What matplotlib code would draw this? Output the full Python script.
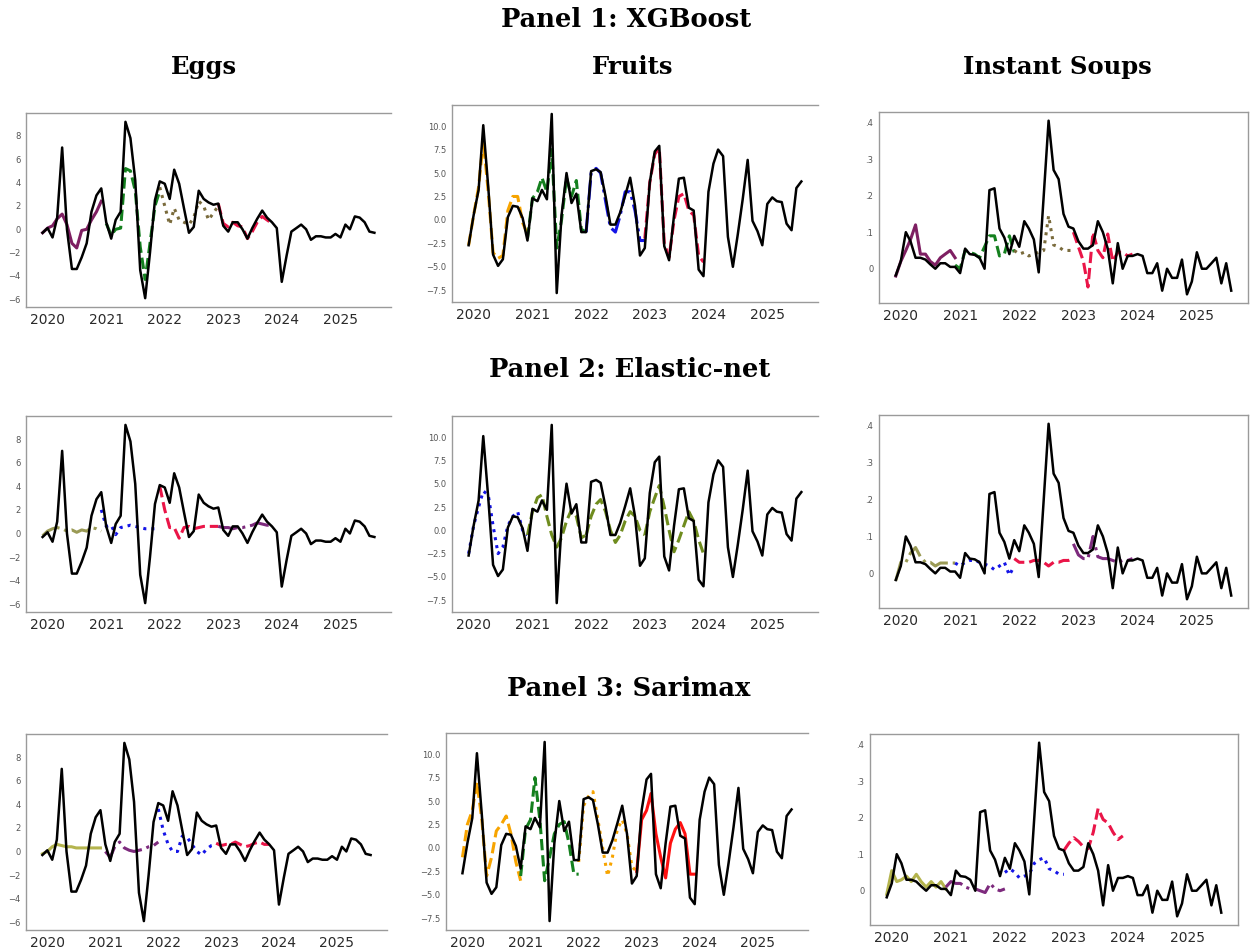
import numpy as np
import pandas as pd
import matplotlib
matplotlib.use("Agg")
import matplotlib.pyplot as plt
import matplotlib.dates as mdates
from matplotlib.font_manager import FontProperties
from matplotlib.ticker import FuncFormatter, MultipleLocator

# ---------------------------------------------------------------- data
months = pd.date_range("2019-12-01", periods=69, freq="MS")

eggs_actual = [
    -0.3, 0.1, -0.7, 1.0, 7.0, 0.0, -3.4, -3.4, -2.4, -1.2, 1.5, 2.9, 3.5,
    0.6, -0.8, 0.8, 1.5, 9.2, 7.8, 4.2, -3.5, -5.9, -2.0, 2.5, 4.1,
    3.9, 2.6, 5.1, 3.9, 1.8, -0.3, 0.2, 3.3, 2.6, 2.3, 2.1, 2.2,
    0.3, -0.2, 0.6, 0.6, 0.0, -0.8, 0.1, 0.9, 1.6, 1.0, 0.6, 0.1,
    -4.5, -2.2, -0.2, 0.1, 0.4, 0.0, -0.9, -0.6, -0.6, -0.7, -0.7, -0.4,
    -0.7, 0.4, 0.0, 1.1, 1.0, 0.6, -0.2, -0.3,
]
fruits_actual = [
    -2.7, 0.5, 3.2, 10.1, 3.5, -3.7, -4.9, -4.2, 0.3, 1.5, 1.4, 0.2, -2.2,
    2.3, 2.0, 3.2, 2.2, 11.3, -7.8, 0.5, 5.0, 1.8, 2.8, -1.3, -1.3,
    5.2, 5.4, 5.1, 2.5, -0.5, -0.5, 0.8, 2.6, 4.5, 1.5, -3.8, -3.0,
    4.0, 7.3, 7.9, -2.8, -4.3, 0.5, 4.4, 4.5, 1.3, 1.0, -5.3, -6.0,
    3.0, 6.0, 7.5, 6.8, -1.8, -5.0, -1.6, 2.2, 6.4, -0.1, -1.2, -2.7,
    1.7, 2.4, 2.0, 1.9, -0.4, -1.1, 3.4, 4.1,
]
soups_actual = [
    -0.018, 0.020, 0.100, 0.075, 0.030, 0.030, 0.025, 0.012, 0.000, 0.015, 0.015, 0.005, 0.005,
    -0.012, 0.055, 0.040, 0.038, 0.030, 0.000, 0.215, 0.220, 0.110, 0.085, 0.040, 0.090,
    0.060, 0.130, 0.110, 0.080, -0.010, 0.200, 0.405, 0.270, 0.245, 0.150, 0.115, 0.110,
    0.075, 0.055, 0.055, 0.065, 0.130, 0.100, 0.055, -0.040, 0.070, 0.000, 0.035, 0.035,
    0.040, 0.035, -0.012, -0.012, 0.015, -0.060, 0.000, -0.025, -0.025, 0.025, -0.070, -0.035,
    0.045, 0.000, 0.000, 0.015, 0.030, -0.040, 0.015, -0.060,
]

# forecast paths: (first month, values)
eggs_xgb = [
    ("2019-12", [-0.3, 0.1, 0.3, 0.9, 1.3, 0.4, -1.2, -1.6, -0.1, 0.0, 0.8, 1.5, 2.4]),
    ("2021-01", [0.5, -0.5, 0.0, 0.1, 5.2, 5.0, 3.3, -1.5, -4.3, -1.2, 2.0, 3.3]),
    ("2021-12", [3.6, 2.0, 0.4, 1.8, 0.8, 0.6, 0.4, 1.0, 2.4, 2.0, 0.8, 1.4, 2.0]),
    ("2022-12", [2.2, 0.5, 0.2, 0.6, 0.3, 0.2, -0.8, -0.2, 0.6, 1.1, 0.8, 0.5]),
]
eggs_enet = [
    ("2019-12", [-0.2, 0.2, 0.4, 0.5, 0.4, 0.2, 0.3, 0.1, 0.3, 0.2, 0.5, 0.4, 0.2]),
    ("2020-12", [2.0, 0.6, 0.7, -0.1, 0.5, 0.6, 0.7, 0.6, 0.5, 0.4, 0.4, 0.4]),
    ("2021-12", [4.0, 2.0, 0.5, 0.5, -0.4, 0.5, 0.6, 0.4, 0.5, 0.6, 0.6, 0.6, 0.6]),
    ("2022-12", [0.6, 0.5, 0.5, 0.4, 0.5, 0.5, 0.6, 0.7, 0.9, 0.8, 0.7, 0.7]),
]
eggs_sarimax = [
    ("2019-12", [-0.2, 0.0, 0.4, 0.6, 0.5, 0.4, 0.4, 0.3, 0.3, 0.3, 0.3, 0.3, 0.3]),
    ("2021-01", [0.0, -0.5, 0.4, 0.8, 0.3, 0.1, 0.0, 0.1, 0.2, 0.4, 0.5, 0.8]),
    ("2021-12", [3.6, 1.8, 0.6, 0.0, 0.0, 1.3, 1.2, 0.6, 0.0, -0.3, 0.2, 0.5, 0.6]),
    ("2022-12", [0.7, 0.5, 0.6, 0.6, 0.8, 0.6, 0.4, 0.5, 0.7, 0.8, 0.6, 0.6]),
]

fruits_xgb = [
    ("2019-12", [-2.7, 0.5, 3.5, 8.5, 3.0, -3.5, -4.1, -3.8, 1.0, 2.5, 2.5, -0.3, -1.5]),
    ("2020-12", [-2.0, 2.3, 3.0, 4.5, 3.0, 7.5, -3.0, 0.0, 4.5, 2.5, 4.2, -1.0, -1.3]),
    ("2021-12", [-1.3, 5.0, 5.5, 5.0, 2.0, -0.8, -1.3, 0.5, 3.0, 3.0, 1.0, -2.2, -2.2]),
    ("2022-12", [-2.0, 4.0, 7.0, 7.7, -2.5, -4.0, 0.0, 2.5, 2.8, 1.0, 0.5, -3.8, -4.5]),
]
fruits_enet = [
    ("2019-12", [-2.5, 0.5, 2.5, 4.2, 3.8, 0.5, -2.5, -1.8, 0.5, 1.5, 2.0, 0.0, -0.5]),
    ("2020-12", [-0.5, 2.0, 3.5, 3.8, 1.5, -0.5, -1.8, -0.8, 1.0, 2.2, 1.5, -0.8, -0.5]),
    ("2021-12", [-0.5, 1.5, 2.8, 3.3, 2.0, 0.0, -1.3, -0.5, 1.0, 2.0, 1.5, 0.0, -0.5]),
    ("2022-12", [-0.5, 2.0, 3.5, 4.8, 2.5, 0.0, -2.3, -1.0, 0.5, 2.0, 1.0, -1.0, -2.5]),
]
fruits_sarimax = [
    ("2019-12", [-1.0, 2.5, 4.0, 7.0, 3.0, -3.0, -1.0, 1.8, 2.5, 3.4, 1.5, -1.5, -3.5]),
    ("2020-12", [-3.0, 2.0, 3.0, 7.5, 3.0, -3.5, -1.0, 1.5, 2.5, 2.8, 0.5, -2.8, -2.8]),
    ("2021-12", [-1.5, 4.5, 5.5, 6.0, 3.0, 0.0, -3.0, -1.0, 2.0, 3.0, 1.5, -2.0, -2.5]),
    ("2022-12", [-2.5, 3.0, 4.0, 5.8, 1.5, -1.0, -3.2, 0.5, 2.0, 2.7, 1.5, -2.8, -2.8]),
]

soups_xgb = [
    ("2019-12", [-0.02, 0.02, 0.05, 0.08, 0.12, 0.04, 0.04, 0.02, 0.01, 0.03, 0.04, 0.05, 0.03]),
    ("2020-12", [0.01, 0.00, 0.05, 0.045, 0.04, 0.03, 0.06, 0.09, 0.09, 0.035, 0.04, 0.09, 0.045]),
    ("2021-12", [0.05, 0.04, 0.045, 0.035, 0.04, 0.045, 0.05, 0.145, 0.065, 0.06, 0.05, 0.05, 0.05]),
    ("2022-12", [0.10, 0.06, 0.02, -0.05, 0.10, 0.05, 0.03, 0.095, 0.02, 0.045, 0.045, 0.035, 0.04]),
]
soups_enet = [
    ("2019-12", [-0.02, 0.03, 0.03, 0.055, 0.07, 0.045, 0.03, 0.03, 0.02, 0.028, 0.028, 0.028, 0.028]),
    ("2020-12", [0.028, 0.02, 0.03, 0.035, 0.035, 0.03, 0.025, 0.02, 0.01, 0.02, 0.03, -0.005, 0.02]),
    ("2021-12", [0.04, 0.03, 0.03, 0.03, 0.035, 0.035, 0.03, 0.02, 0.03, 0.03, 0.035, 0.035, 0.04]),
    ("2022-12", [0.08, 0.05, 0.04, 0.04, 0.10, 0.045, 0.04, 0.04, 0.035, 0.03, 0.035, 0.035, 0.04]),
]
soups_sarimax = [
    ("2019-12", [-0.01, 0.055, 0.025, 0.03, 0.04, 0.025, 0.045, 0.025, 0.01, 0.025, 0.01, 0.025, 0.005]),
    ("2020-12", [0.01, 0.025, 0.02, 0.02, 0.01, 0.005, 0.005, 0.0, -0.005, 0.02, 0.005, 0.0, 0.005]),
    ("2021-12", [0.05, 0.06, 0.05, 0.035, 0.04, 0.045, 0.075, 0.085, 0.09, 0.06, 0.055, 0.045, 0.045]),
    ("2022-12", [0.11, 0.13, 0.145, 0.135, 0.12, 0.115, 0.16, 0.225, 0.195, 0.185, 0.16, 0.14, 0.15]),
]

panel_titles = ["Panel 1: XGBoost", "Panel 2: Elastic-net", "Panel 3: Sarimax"]
product_titles = ["Eggs", "Fruits", "Instant Soups"]

# ---------------------------------------------------------------- styles
PURPLE = "#7e1f62"
GREEN = "#14801e"
OLIVE_DOT = "#7a6b3c"
CRIMSON = "#ea1548"
ORANGE = "#f7a400"
BLUE = "#1414e6"
OLIVE_DASH = "#6f8c1e"
KHAKI = "#9a9a55"
VIOLET = "#7d2a7d"
YELLOW_OLIVE = "#b4b44e"
RED = "#ff1010"

line_styles = {
    (0, 0): [(PURPLE, "-"), (GREEN, "--"), (OLIVE_DOT, ":"), (CRIMSON, "--")],
    (0, 1): [(ORANGE, "--"), (GREEN, "--"), (BLUE, "-."), (CRIMSON, "--")],
    (0, 2): [(PURPLE, "-"), (GREEN, "--"), (OLIVE_DOT, ":"), (CRIMSON, "--")],
    (1, 0): [(KHAKI, "-."), (BLUE, ":"), (CRIMSON, "--"), (VIOLET, "-.")],
    (1, 1): [(BLUE, ":"), (OLIVE_DASH, "--"), (OLIVE_DASH, "--"), (OLIVE_DASH, "--")],
    (1, 2): [(KHAKI, "-."), (BLUE, ":"), (CRIMSON, "--"), (VIOLET, "-.")],
    (2, 0): [(YELLOW_OLIVE, "-"), (VIOLET, "-."), (BLUE, ":"), (CRIMSON, "--")],
    (2, 1): [(ORANGE, "--"), (GREEN, "--"), (ORANGE, ":"), (RED, "-")],
    (2, 2): [(YELLOW_OLIVE, "-"), (VIOLET, "-."), (BLUE, ":"), (CRIMSON, "--")],
}

actuals = [eggs_actual, fruits_actual, soups_actual]
forecasts = [
    [eggs_xgb, fruits_xgb, soups_xgb],
    [eggs_enet, fruits_enet, soups_enet],
    [eggs_sarimax, fruits_sarimax, soups_sarimax],
]

# axes boxes in pixels: left, top, right, bottom
boxes = [
    [(26, 113, 391, 307), (452, 105, 818, 302), (879, 112, 1248, 303)],
    [(26, 416, 391, 612), (452, 416, 818, 612), (879, 415, 1248, 608)],
    [(26, 734, 387, 930), (446, 733, 808, 930), (870, 734, 1238, 925)],
]
y_steps = [2, 2.5, 0.1]

W, H = 1252, 951
fig = plt.figure(figsize=(W / 100, H / 100), dpi=100)
fig.patch.set_facecolor("white")

panel_font = FontProperties(family="DejaVu Serif", weight="bold", size=18.5)
product_font = FontProperties(family="DejaVu Serif", weight="bold", size=17.5)


def soup_fmt(v, _):
    if abs(v) < 1e-9:
        return "0"
    return f"{v:.1f}".lstrip("0")


for r in range(3):
    for c in range(3):
        l, t, rr, b = boxes[r][c]
        ax = fig.add_axes([l / W, 1 - b / H, (rr - l) / W, (b - t) / H])
        ax.plot(months, actuals[c], color="black", lw=1.8, zorder=4)
        for (start, vals), (col, ls) in zip(forecasts[r][c], line_styles[(r, c)]):
            idx = pd.date_range(start + "-01", periods=len(vals), freq="MS")
            ax.plot(idx, vals, color=col, ls=ls, lw=2.2, zorder=3)

        ax.xaxis.set_major_locator(mdates.YearLocator())
        ax.xaxis.set_major_formatter(mdates.DateFormatter("%Y"))
        ax.yaxis.set_major_locator(MultipleLocator(y_steps[c]))
        if c == 2:
            ax.yaxis.set_major_formatter(FuncFormatter(soup_fmt))

        ax.tick_params(axis="x", length=0, pad=4, labelsize=10, labelcolor="#2a2a2a")
        ax.tick_params(axis="y", length=0, pad=4, labelsize=6, labelcolor="#555555")
        for name, sp in ax.spines.items():
            sp.set_color("#9a9a9a")
            sp.set_linewidth(1.0)
        ax.spines["right"].set_visible(c == 2)

# titles
fig.text(626 / W, 1 - 27 / H, panel_titles[0], fontproperties=panel_font,
         ha="center", va="baseline")
fig.text(630 / W, 1 - 377 / H, panel_titles[1], fontproperties=panel_font,
         ha="center", va="baseline")
fig.text(629 / W, 1 - 696 / H, panel_titles[2], fontproperties=panel_font,
         ha="center", va="baseline")
for x, name in zip([204, 633, 1057], product_titles):
    fig.text(x / W, 1 - 74 / H, name, fontproperties=product_font,
             ha="center", va="baseline")

fig.savefig("out.png", dpi=100, facecolor="white")
